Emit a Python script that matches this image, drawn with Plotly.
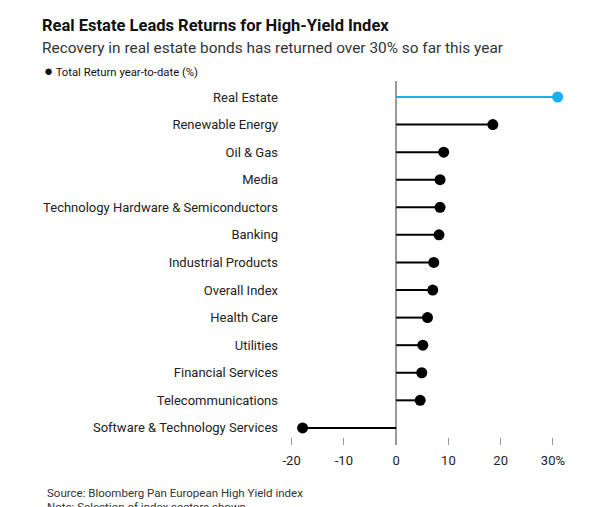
import plotly.graph_objects as go

categories = [
    "Real Estate", "Renewable Energy", "Oil & Gas", "Media",
    "Technology Hardware & Semiconductors", "Banking", "Industrial Products",
    "Overall Index", "Health Care", "Utilities", "Financial Services",
    "Telecommunications", "Software & Technology Services",
]
returns = [30.9, 18.5, 9.1, 8.4, 8.4, 8.2, 7.2, 7.0, 6.0, 5.1, 4.9, 4.6, -17.9]
highlight = "Real Estate"
tick_vals = [-20, -10, 0, 10, 20, 30]
tick_text = ["-20", "-10", "0", "10", "20", "30%"]

BLUE = "#1aaff0"
FONT = "Roboto"

fig = go.Figure()

# stems
for cat, val in zip(categories, returns):
    col = BLUE if cat == highlight else "#000000"
    fig.add_trace(go.Scatter(
        x=[0, val], y=[cat, cat], mode="lines",
        line=dict(color=col, width=2), showlegend=False, hoverinfo="skip",
    ))

# dots
fig.add_trace(go.Scatter(
    x=returns, y=categories, mode="markers",
    marker=dict(size=11, color=[BLUE if c == highlight else "#000000" for c in categories]),
    name="Total Return year-to-date (%)", showlegend=False,
))

PL, PW = 289, 277  # plot-area left edge and width in pixels
def px(x):
    return (x - PL) / PW

fig.update_layout(
    width=600, height=507,
    margin=dict(l=289, r=34, t=81, b=62),
    paper_bgcolor="white", plot_bgcolor="white",
    font=dict(family=FONT, color="#222222"),
    xaxis=dict(
        range=[-20.5, 32.5], tickvals=tick_vals, ticktext=tick_text,
        showgrid=False, zeroline=True, zerolinecolor="#999999", zerolinewidth=2,
        ticks="inside", ticklen=7, tickcolor="#999999", tickwidth=1,
        showline=False, tickfont=dict(size=13, color="#222222"),
        ticklabelstandoff=6,
    ),
    yaxis=dict(
        categoryorder="array", categoryarray=categories,
        range=[12.62, -0.58], showgrid=False, zeroline=False, showline=False,
        ticks="", tickfont=dict(size=13, color="#222222"), ticklabelstandoff=10,
    ),
    annotations=[
        dict(text="<b>Real Estate Leads Returns for High-Yield Index</b>",
             xref="paper", yref="paper", x=px(40), y=1.0, xanchor="left", yanchor="middle",
             yshift=81 - 25, showarrow=False, font=dict(size=16.5, color="#111111", family=FONT)),
        dict(text="Recovery in real estate bonds has returned over 30% so far this year",
             xref="paper", yref="paper", x=px(40), y=1.0, xanchor="left", yanchor="middle",
             yshift=81 - 48, showarrow=False, font=dict(size=15.4, color="#333333", family=FONT)),
        dict(text="<span style='font-size:15px'>●</span> Total Return year-to-date (%)",
             xref="paper", yref="paper", x=px(42), y=1.0, xanchor="left", yanchor="middle",
             yshift=81 - 71, showarrow=False, font=dict(size=11.3, color="#111111", family=FONT)),
        dict(text="Source: Bloomberg Pan European High Yield index",
             xref="paper", yref="paper", x=px(45), y=0.0, xanchor="left", yanchor="middle",
             yshift=445 - 493, showarrow=False, font=dict(size=11.5, color="#333333", family=FONT)),
        dict(text="Note: Selection of index sectors shown",
             xref="paper", yref="paper", x=px(45), y=0.0, xanchor="left", yanchor="middle",
             yshift=445 - 507, showarrow=False, font=dict(size=11.5, color="#333333", family=FONT)),
    ],
)

fig.write_html("out.html")
